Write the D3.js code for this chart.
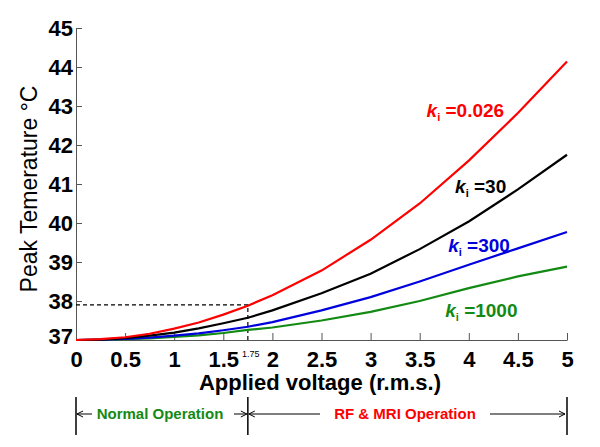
<!DOCTYPE html>
<html><head><meta charset="utf-8">
<script src="https://cdn.jsdelivr.net/npm/d3@7"></script>
<style>body{margin:0;background:#fff}svg{display:block}</style>
</head><body><svg id="c" width="600" height="447"></svg>
<script>
const voltage = [0, 0.25, 0.5, 0.75, 1, 1.25, 1.5, 1.75, 2, 2.5, 3, 3.5, 4, 4.5, 5];
const red026  = [37, 37.02, 37.07, 37.16, 37.29, 37.45, 37.65, 37.88, 38.15, 38.78, 39.57, 40.5, 41.6, 42.82, 44.14];
const black30 = [37, 37.01, 37.05, 37.11, 37.19, 37.3, 37.43, 37.57, 37.76, 38.2, 38.7, 39.33, 40.04, 40.86, 41.75];
const blue300 = [37, 37.01, 37.03, 37.06, 37.11, 37.17, 37.25, 37.34, 37.46, 37.76, 38.1, 38.5, 38.93, 39.35, 39.77];
const green1000 = [37, 37.0, 37.02, 37.04, 37.08, 37.12, 37.18, 37.26, 37.32, 37.5, 37.72, 38.0, 38.33, 38.63, 38.88];
const seriesNames = ["0.026", "30", "300", "1000"];
const seriesColors = ["#ff0000", "#000000", "#0000dd", "#138a13"];
const xTicks = [0, 0.5, 1, 1.5, 2, 2.5, 3, 3.5, 4, 4.5, 5];
const yTicks = [37, 38, 39, 40, 41, 42, 43, 44, 45];
const markV = 1.75, markT = 37.9;
const labelPos = [[3.57, 42.72], [3.86, 40.77], [3.79, 39.26], [3.76, 37.59]];

const svg = d3.select("#c");
const x = d3.scaleLinear().domain([0, 5]).range([76, 567]);
const y = d3.scaleLinear().domain([37, 45]).range([340, 28]);
const F = "'Liberation Sans', Arial, sans-serif";

// axes
const xa = svg.append("g").attr("transform", `translate(0,${y(37)})`)
  .call(d3.axisBottom(x).tickValues(xTicks).tickSize(-7).tickSizeOuter(0).tickFormat(d3.format("")));
xa.selectAll("text").attr("y", 11).attr("dy", "0.71em")
  .style("font", `bold 22px ${F}`).attr("fill", "#000");
const ya = svg.append("g").attr("transform", `translate(${x(0)},0)`)
  .call(d3.axisLeft(y).tickValues(yTicks).tickSize(-6).tickSizeOuter(0));
ya.selectAll("text").attr("x", -3).style("font", `bold 22px ${F}`).attr("fill", "#000");
ya.selectAll("text").filter(d => d === 37).attr("dy", "0.15em");
svg.selectAll(".domain").attr("stroke", "#555");
svg.selectAll(".tick line").attr("stroke", "#555");

// dashed marker
svg.append("path")
  .attr("d", `M${x(0)},${y(markT)}H${x(markV)}V${y(37)}`)
  .attr("fill", "none").attr("stroke", "#000").attr("stroke-width", 1.2).attr("stroke-dasharray", "4,3");
svg.append("text").attr("x", x(markV) + 3).attr("y", 357).attr("text-anchor", "middle")
  .style("font", `9px ${F}`).text("1.75");

// curves
const data = [red026, black30, blue300, green1000];
const line = d3.line().x((d, i) => x(voltage[i])).y(d => y(d));
data.slice().reverse().forEach((s, j) => {
  const i = data.length - 1 - j;
  svg.append("path").datum(s).attr("d", line).attr("fill", "none")
    .attr("stroke", seriesColors[i]).attr("stroke-width", 2.2);
});

// labels
seriesNames.forEach((n, i) => {
  const t = svg.append("text").attr("x", x(labelPos[i][0])).attr("y", y(labelPos[i][1]))
    .attr("fill", seriesColors[i]).style("font", `bold 19px ${F}`);
  t.append("tspan").style("font-style", "italic").text("k");
  t.append("tspan").attr("dy", 4).style("font-size", "11px").text("i");
  t.append("tspan").attr("dy", -4).text(" =" + n);
});

// titles
svg.append("text").attr("transform", "translate(37,189) rotate(-90)").attr("text-anchor", "middle")
  .style("font", `23px ${F}`).text("Peak Temerature °C");
svg.append("text").attr("x", 320).attr("y", 390).attr("text-anchor", "middle")
  .style("font", `bold 22px ${F}`).text("Applied voltage (r.m.s.)");

// bottom annotation
const ay = 414;
[0, markV, 5].forEach(v => svg.append("line").attr("x1", x(v)).attr("x2", x(v))
  .attr("y1", 397).attr("y2", 435).attr("stroke", "#000").attr("stroke-width", 1.5));
function arrow(x1, x2, dir) {
  svg.append("line").attr("x1", x1).attr("x2", x2).attr("y1", ay).attr("y2", ay)
    .attr("stroke", "#000").attr("stroke-width", 1);
  const tip = dir < 0 ? x1 : x2;
  svg.append("path").attr("d", `M${tip - dir * 6},${ay - 3}L${tip},${ay}L${tip - dir * 6},${ay + 3}`)
    .attr("fill", "none").attr("stroke", "#000").attr("stroke-width", 1);
}
arrow(x(0) + 1, 92, -1);
arrow(234, x(markV) - 1, 1);
arrow(x(markV) + 1, 320, -1);
arrow(490, x(5) - 2, 1);
svg.append("text").attr("x", 160).attr("y", ay + 5).attr("text-anchor", "middle")
  .attr("fill", "#138a13").style("font", `bold 15px ${F}`).text("Normal Operation");
svg.append("text").attr("x", 405).attr("y", ay + 5).attr("text-anchor", "middle")
  .attr("fill", "#ff0000").style("font", `bold 15px ${F}`).text("RF & MRI Operation");
</script></body></html>
